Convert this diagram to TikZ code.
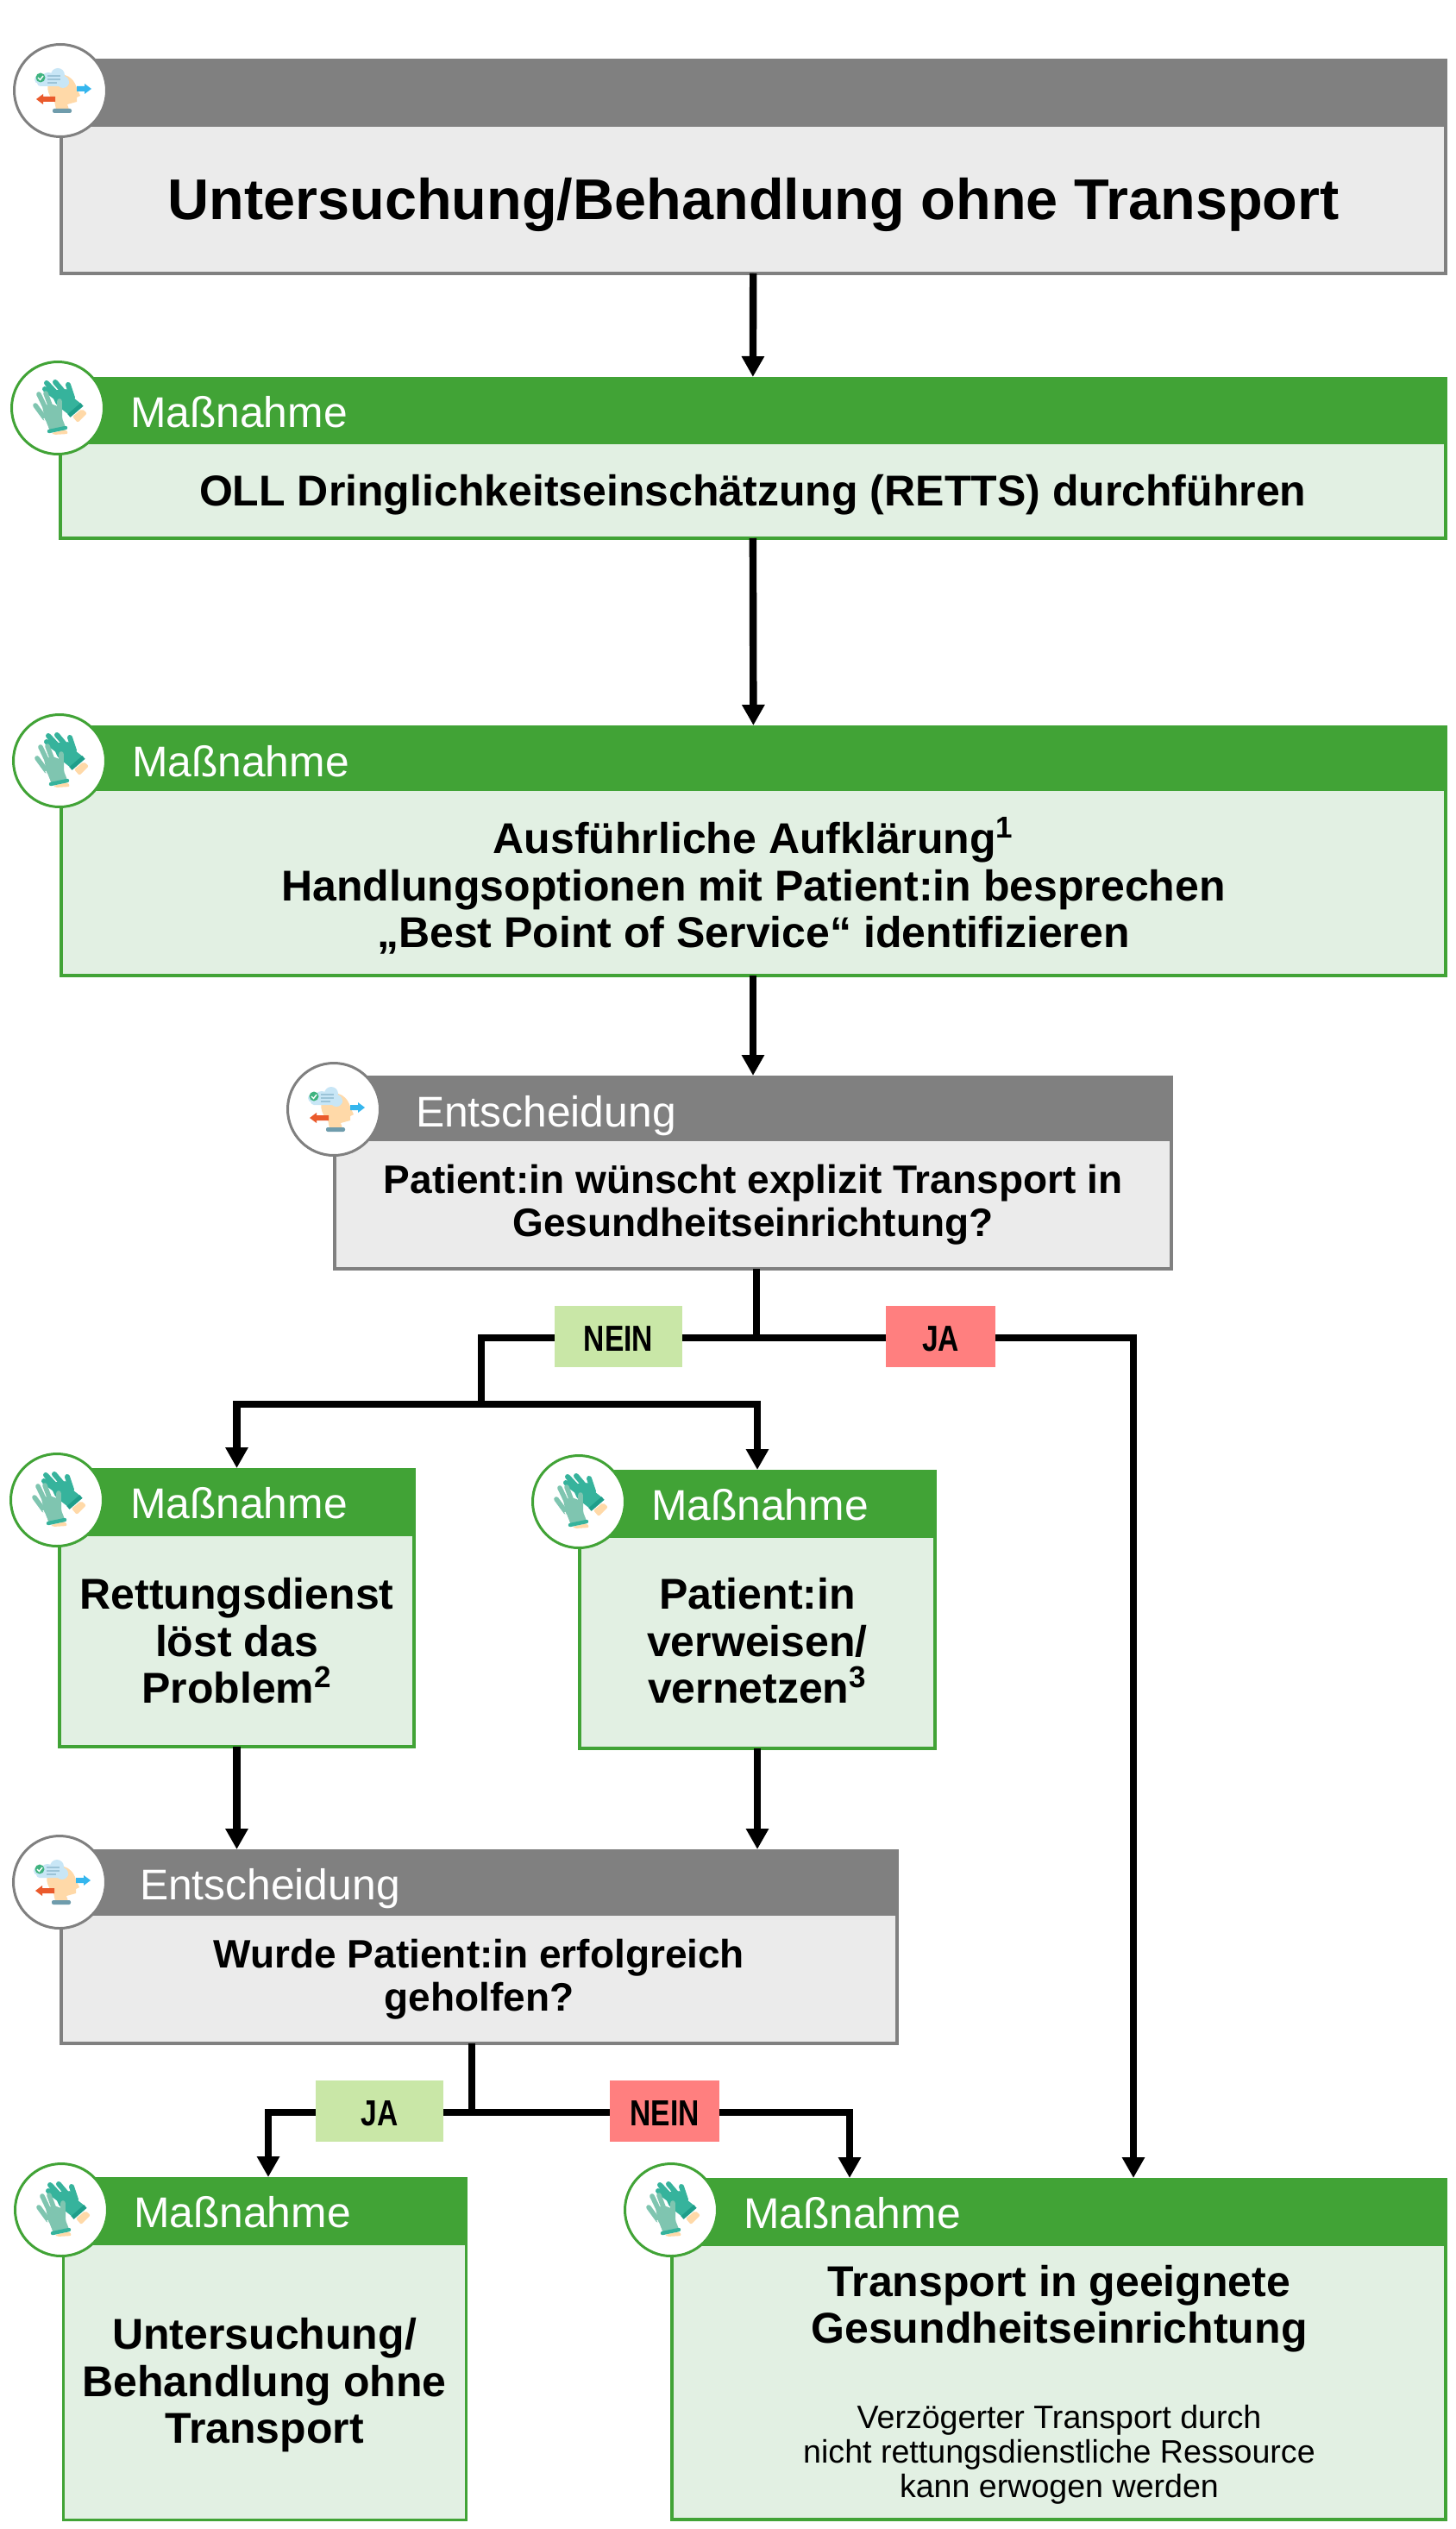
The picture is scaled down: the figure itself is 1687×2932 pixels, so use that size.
\documentclass[tikz,border=0pt]{standalone}
\usepackage{fontspec}
\setmainfont{Liberation Sans}
\newfontfamily\narrowfont[FakeStretch=0.8]{Liberation Sans}
\usetikzlibrary{arrows.meta}
\usetikzlibrary{positioning}
\definecolor{greyhead}{HTML}{808080}
\definecolor{greybody}{HTML}{EBEBEB}
\definecolor{greenhead}{HTML}{41A336}
\definecolor{greenbody}{HTML}{E2F0E3}
\definecolor{labelyes}{HTML}{C9E7A7}
\definecolor{labelno}{HTML}{FF7F7F}
\definecolor{skin}{HTML}{FFD9A8}
\definecolor{gloveback}{HTML}{36B39C}
\definecolor{glovefront}{HTML}{7FC5B0}
\definecolor{glovecuff}{HTML}{1F9E8A}
\definecolor{cloud}{HTML}{C8E6F6}
\definecolor{cloudline}{HTML}{9CC4D8}
\definecolor{tick}{HTML}{3FB37F}
\definecolor{arrowblue}{HTML}{35B6EE}
\definecolor{arrowred}{HTML}{EA5A2C}
\definecolor{stand}{HTML}{6F9CAC}
\tikzset{>={Triangle[length=12pt,width=12.5pt]}, outer sep=0pt, node distance=0pt}
\tikzstyle{body} = [draw, rectangle, line width=2pt, anchor=north west, align=center, inner sep=0pt]
\tikzstyle{body_g} = [body, draw=greenhead, fill=greenbody]
\tikzstyle{body_d} = [body, draw=greyhead, fill=greybody]
\tikzstyle{head_g} = [rectangle, fill=greenhead, inner sep=0pt]
\tikzstyle{head_d} = [rectangle, fill=greyhead, inner sep=0pt]
\tikzstyle{ring_g} = [draw=greenhead, fill=white, circle, line width=1.5pt, minimum size=53.5pt, inner sep=0pt]
\tikzstyle{ring_d} = [draw=greyhead, fill=white, circle, line width=1.5pt, minimum size=53.5pt, inner sep=0pt]
\tikzstyle{head_txt} = [anchor=base west, text=white, inner sep=0pt, font=\fontsize{24.9}{27}\selectfont]
\tikzstyle{main_txt} = [text depth=0pt, font=\fontsize{25}{27.3}\selectfont\bfseries]
\tikzstyle{dec_txt} = [align=center, inner sep=0pt, font=\fontsize{23}{25}\selectfont\bfseries]
\tikzstyle{note_txt} = [align=center, inner sep=0pt, font=\fontsize{18.8}{20}\selectfont]
\tikzstyle{label_yes} = [rectangle, fill=labelyes, minimum height=35.5pt, inner sep=0pt, text height=17pt, text depth=0pt, font=\fontsize{21}{21}\selectfont\narrowfont\bfseries]
\tikzstyle{label_no} = [label_yes, fill=labelno]
\tikzstyle{conn} = [line width=4.2pt]
\tikzset{
  icon_gloves/.pic={
    \fill [rounded corners=1pt, gloveback] (-9,-20) -- (12,-22) -- (18,-12) -- (28,-4) -- (13,8) -- (-2,-4) -- cycle;
    \draw [line width=3pt, line cap=round, gloveback] (-13,-29) -- (0,-15) (-3,-30) -- (8,-17) (12,-27) -- (17,-12) (-15,-22) -- (-3,-13);
    \fill [rounded corners=1pt, skin] (17,10) -- (28,1) -- (34,6) -- (23,17) -- cycle;
    \draw [line width=2.4pt, glovecuff] (13,9) -- (28,-4);
    \fill [rounded corners=1pt, glovefront] (-18,-2) -- (-8,-5) -- (5,0) -- (5,12) -- (9,22) -- (-9,27) -- (-15,12) -- cycle;
    \draw [line width=2.8pt, line cap=round, glovefront] (-26,-3) -- (-15,12) (-22,-16) -- (-12,5) (-14,-17) -- (-7,2) (2,-8) -- (2,10);
    \draw [line width=0.6pt, white] (-16,12) -- (-12,22);
    \fill [rounded corners=1pt, skin] (-7,29) -- (10,25) -- (12,30) -- (-5,31) -- cycle;
    \draw [line width=2.2pt, line cap=round, gloveback] (-10,27) -- (9,23);
  },
  icon_mind/.pic={
    \fill [skin] (-5,22) -- (-7,12) .. controls (-15,6) and (-18,-8) .. (-10,-14) .. controls (-2,-22) and (14,-20) .. (19,-3) -- (23,6) -- (19,8) -- (19,13) -- (8,16) -- (10,22) -- cycle;
    \fill [cloud] (-25,-13) circle (5) (-14,-13) circle (8) (-3,-18) circle (8) (3,-10) circle (7);
    \fill [cloud, rounded corners=2pt] (-27,-12) rectangle (10,-5);
    \fill [tick] (-23,-15) circle (5.5);
    \draw [white, line width=0.7pt] (-26,-15) -- (-23.5,-12.5) -- (-20,-17);
    \draw [cloudline, line width=0.6pt] (-15,-17) -- (0,-17) (-15,-13) -- (0,-13) (-15,-9) -- (-4,-9);
    \fill [arrowblue] (19,-5) -- (28,-5) -- (28,-8) -- (36,-2) -- (28,4) -- (28,1) -- (19,1) -- cycle;
    \fill [arrowred] (-6,7) -- (-20,7) -- (-20,4) -- (-28,10) -- (-20,16) -- (-20,13) -- (-6,13) -- cycle;
    \fill [stand, rounded corners=1pt] (-9,21) rectangle (13,26);
  }
}
\begin{document}
\begin{tikzpicture}[x=0.5pt, y=-0.5pt]
    \useasboundingbox (0,0) rectangle (1687,2932);

    \node [body_d, minimum width=802.5pt, minimum height=86pt, text depth=0.7pt, font=\fontsize{33.3}{36}\selectfont\bfseries] (start) at (71,145) {Untersuchung/Behandlung ohne Transport};
    \node [head_d, minimum width=804.5pt, minimum height=38.5pt, above=0pt of start] (head_s) {};

    \node [body_g, main_txt, minimum width=803.25pt, minimum height=55.5pt] (act_a) at (69.5,513) {OLL Dringlichkeitseinschätzung (RETTS) durchführen};
    \node [head_g, minimum width=805.25pt, minimum height=38pt, above=0pt of act_a] (head_a) {};

    \node [body_g, main_txt, text depth=-1pt, minimum width=802.5pt, minimum height=108pt] (act_b) at (71,915) {Ausführliche Aufklärung\textsuperscript{1}\\Handlungsoptionen mit Patient:in besprechen\\„Best Point of Service“ identifizieren};
    \node [head_g, minimum width=804.5pt, minimum height=37pt, above=0pt of act_b] (head_b) {};

    \node [body_d, minimum width=485pt, minimum height=75pt] (dec_a) at (388,1321) {};
    \node [head_d, minimum width=487pt, minimum height=37pt, above=0pt of dec_a] (head_da) {};
    \node [dec_txt, yshift=-0.5pt] (txt_da) at (dec_a) {Patient:in wünscht explizit Transport in\\Gesundheitseinrichtung?};

    \node [body_g, main_txt, minimum width=205.5pt, minimum height=123pt] (act_c) at (69,1779) {Rettungsdienst\\löst das\\Problem\textsuperscript{2}};
    \node [head_g, minimum width=207.5pt, minimum height=38.5pt, above=0pt of act_c] (head_c) {};

    \node [body_g, main_txt, text depth=2pt, minimum width=206pt, minimum height=123pt] (act_d) at (672,1781) {Patient:in\\verweisen/\\vernetzen\textsuperscript{3}};
    \node [head_g, minimum width=208pt, minimum height=38.5pt, above=0pt of act_d] (head_d) {};

    \node [body_d, minimum width=484.5pt, minimum height=75pt] (dec_b) at (71,2219) {};
    \node [head_d, minimum width=486.5pt, minimum height=37.5pt, above=0pt of dec_b] (head_db) {};
    \node [dec_txt, yshift=-0.5pt] (txt_db) at (dec_b) {Wurde Patient:in erfolgreich\\geholfen?};

    \node [body_g, main_txt, text depth=1pt, line width=1.5pt, minimum width=233.5pt, minimum height=160pt] (act_e) at (73,2601) {Untersuchung/\\Behandlung ohne\\Transport};
    \node [head_g, minimum width=235pt, minimum height=38.5pt, above=0pt of act_e] (head_e) {};

    \node [body_g, minimum width=448.5pt, minimum height=159.5pt] (act_f) at (779,2602) {};
    \node [head_g, minimum width=450.5pt, minimum height=38.5pt, above=0pt of act_f] (head_f) {};
    \node [main_txt, align=center, inner sep=0pt, anchor=north] (txt_f) at (1228,2626) {Transport in geeignete\\Gesundheitseinrichtung};
    \node [note_txt, anchor=north] (note_f) at (1228,2788) {Verzögerter Transport durch\\nicht rettungsdienstliche Ressource\\kann erwogen werden};

    % header texts
    \node [head_txt] (name_a) at (151,495) {Maßnahme};
    \node [head_txt] (name_b) at (153,900) {Maßnahme};
    \node [head_txt] (name_da) at (482,1306) {Entscheidung};
    \node [head_txt] (name_c) at (151,1760) {Maßnahme};
    \node [head_txt] (name_d) at (755,1762) {Maßnahme};
    \node [head_txt] (name_db) at (162,2202) {Entscheidung};
    \node [head_txt] (name_e) at (155,2582) {Maßnahme};
    \node [head_txt] (name_f) at (862,2583) {Maßnahme};

    % round icons
    \node [ring_d] (ring_s) at (70,105) {};
    \node [ring_g] (ring_a) at (67,473) {};
    \node [ring_g] (ring_b) at (69,882) {};
    \node [ring_d] (ring_da) at (387,1286) {};
    \node [ring_g] (ring_c) at (66,1739) {};
    \node [ring_g] (ring_d) at (671,1741) {};
    \node [ring_d] (ring_db) at (69,2182) {};
    \node [ring_g] (ring_e) at (71,2562) {};
    \node [ring_g] (ring_f) at (778,2562) {};
    \foreach \ring in {ring_s,ring_da,ring_db}
        \pic at (\ring) {icon_mind};
    \foreach \ring in {ring_a,ring_b,ring_c,ring_d,ring_e,ring_f}
        \pic at (\ring) {icon_gloves};

    % branch points
    \coordinate (split_a) at (877,1551);
    \coordinate (join_a) at (558,1628);
    \coordinate (split_b) at (547,2449);
    \coordinate (in_e) at (311,2524);
    \coordinate (in_fl) at (985,2525);
    \coordinate (in_fr) at (1314,2525);

    \node [label_yes, minimum width=74pt] (nein_a) at (717,1549.5) {NEIN};
    \node [label_no, minimum width=63.5pt] (ja_a) at (1090.5,1549.5) {JA};
    \node [label_yes, minimum width=74pt] (ja_b) at (440,2447.5) {JA};
    \node [label_no, minimum width=63.5pt] (nein_b) at (770.5,2447.5) {NEIN};

    \draw [conn, ->] (start) -- (head_a);
    \draw [conn, ->] (act_a) -- (head_b);
    \draw [conn, ->] (act_b.south -| head_da.north) -- (head_da);
    \draw [conn] (dec_a.south -| split_a) -- (split_a);
    \draw [conn] (split_a) -- (split_a -| nein_a.east);
    \draw [conn] (split_a -| nein_a.west) -| (join_a);
    \draw [conn, ->] (join_a) -| (head_c);
    \draw [conn, ->] (join_a) -| (head_d);
    \draw [conn] (split_a) -- (split_a -| ja_a.west);
    \draw [conn, ->] (split_a -| ja_a.east) -| (in_fr);
    \draw [conn, ->] (act_c) -- (act_c.south |- head_db.north);
    \draw [conn, ->] (act_d) -- (act_d.south |- head_db.north);
    \draw [conn] (dec_b.south -| split_b) -- (split_b);
    \draw [conn] (split_b) -- (split_b -| ja_b.east);
    \draw [conn, ->] (split_b -| ja_b.west) -| (in_e);
    \draw [conn] (split_b) -- (split_b -| nein_b.west);
    \draw [conn, ->] (split_b -| nein_b.east) -| (in_fl);
\end{tikzpicture}
\end{document}
